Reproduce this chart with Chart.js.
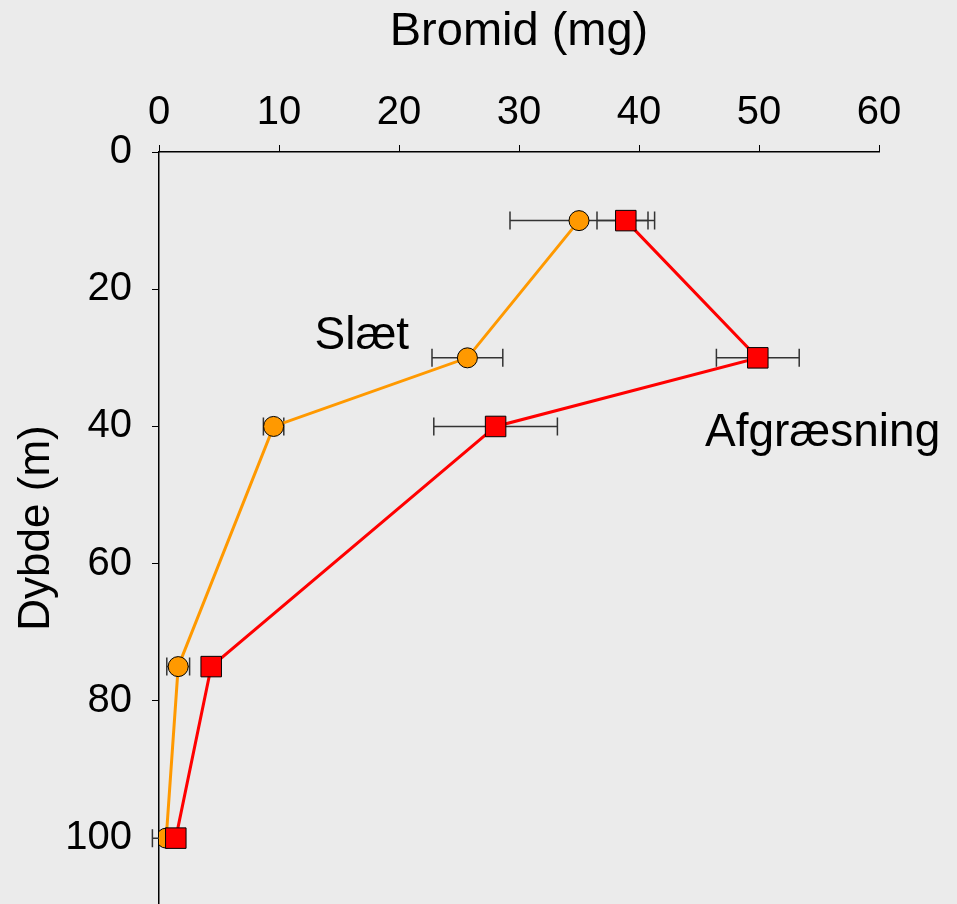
<!DOCTYPE html>
<html>
<head>
<meta charset="utf-8">
<script src="https://cdn.jsdelivr.net/npm/chart.js@4.4.0/dist/chart.umd.min.js"></script>
<style>
  html, body { margin: 0; padding: 0; background: #ebebeb; overflow: hidden; }
  canvas { display: block; }
</style>
</head>
<body>
<canvas id="grafico" width="957" height="904"></canvas>
<script>
// dybder (m) og bromid (mg)
const dybder = [10, 30, 40, 75, 100];
const slaet = [35, 25.7, 9.55, 1.6, 0.6];
const slaetFejl = [5.75, 2.95, 0.85, 0.95, 1.15];
const afgraesning = [38.9, 49.9, 28.05, 4.35, 1.4];
const afgraesningFejl = [2.4, 3.45, 5.15, 0, 0];
const xTicks = [0, 10, 20, 30, 40, 50, 60];
const yTicks = [0, 20, 40, 60, 80, 100];
const etiketter = [
  { tekst: 'Slæt', x: 16.9, y: 26.8 },
  { tekst: 'Afgræsning', x: 55.3, y: 41 }
];

const punkter = (xs) => xs.map((v, i) => ({ x: v, y: dybder[i] }));

const baggrund = {
  id: 'baggrund',
  beforeDraw(chart) {
    const ctx = chart.ctx;
    ctx.save();
    ctx.fillStyle = '#ebebeb';
    ctx.fillRect(0, 0, chart.width, chart.height);
    ctx.restore();
  }
};

const fejlstreger = {
  id: 'fejlstreger',
  beforeDatasetsDraw(chart) {
    const ctx = chart.ctx;
    const xs = chart.scales.x, ys = chart.scales.y;
    ctx.save();
    ctx.strokeStyle = '#333';
    ctx.lineWidth = 1.5;
    [[slaet, slaetFejl], [afgraesning, afgraesningFejl]].forEach(([vals, errs]) => {
      vals.forEach((v, i) => {
        if (!errs[i]) return;
        const y = ys.getPixelForValue(dybder[i]);
        const x1 = xs.getPixelForValue(v - errs[i]);
        const x2 = xs.getPixelForValue(v + errs[i]);
        ctx.beginPath();
        ctx.moveTo(x1, y); ctx.lineTo(x2, y);
        ctx.moveTo(x1, y - 9); ctx.lineTo(x1, y + 9);
        ctx.moveTo(x2, y - 9); ctx.lineTo(x2, y + 9);
        ctx.stroke();
      });
    });
    ctx.restore();
  },
  afterDatasetsDraw(chart) {
    const ctx = chart.ctx;
    const xs = chart.scales.x, ys = chart.scales.y;
    ctx.save();
    ctx.fillStyle = '#000';
    ctx.font = '46px "Liberation Sans", Arial, sans-serif';
    ctx.textAlign = 'center';
    ctx.textBaseline = 'middle';
    etiketter.forEach(e => {
      ctx.fillText(e.tekst, xs.getPixelForValue(e.x), ys.getPixelForValue(e.y));
    });
    ctx.restore();
  }
};

new Chart(document.getElementById('grafico'), {
  type: 'scatter',
  data: {
    datasets: [
      {
        label: 'Afgræsning',
        data: punkter(afgraesning),
        showLine: true,
        borderColor: '#ff0000',
        borderWidth: 3,
        pointStyle: 'rect',
        pointRadius: 14.5,
        pointBackgroundColor: '#ff0000',
        pointBorderColor: '#000',
        pointBorderWidth: 1,
        order: 0
      },
      {
        label: 'Slæt',
        data: punkter(slaet),
        showLine: true,
        borderColor: '#ff9900',
        borderWidth: 3,
        pointStyle: 'circle',
        pointRadius: 10,
        pointBackgroundColor: '#ff9900',
        pointBorderColor: '#000',
        pointBorderWidth: 1,
        order: 1
      }
    ]
  },
  options: {
    responsive: false,
    animation: false,
    layout: { autoPadding: false, padding: { top: 0, left: 0, right: 78, bottom: 0 } },
    plugins: { legend: { display: false }, tooltip: { enabled: false } },
    scales: {
      x: {
        type: 'linear',
        position: 'top',
        min: 0,
        max: 60,
        afterBuildTicks: s => { s.ticks = xTicks.map(v => ({ value: v })); },
        afterFit: s => { s.height = 152; s.paddingLeft = 0; s.paddingRight = 0; },
        ticks: {
          color: '#000',
          padding: 8,
          maxRotation: 0,
          font: { family: '"Liberation Sans", Arial, sans-serif', size: 40 }
        },
        grid: { drawOnChartArea: false, drawTicks: true, tickLength: 7, color: '#000', lineWidth: 1 },
        border: { display: true, color: '#000', width: 1.5 },
        title: {
          display: true,
          text: 'Bromid (mg)',
          color: '#000',
          padding: { top: 4, bottom: 0 },
          font: { family: '"Liberation Sans", Arial, sans-serif', size: 47 }
        }
      },
      y: {
        type: 'linear',
        reverse: true,
        min: 0,
        max: 109.6,
        afterBuildTicks: s => { s.ticks = yTicks.map(v => ({ value: v })); },
        afterFit: s => { s.width = 159; s.paddingTop = 0; s.paddingBottom = 0; },
        ticks: {
          color: '#000',
          padding: 20,
          font: { family: '"Liberation Sans", Arial, sans-serif', size: 40 }
        },
        grid: { drawOnChartArea: false, drawTicks: true, tickLength: 7, color: '#000', lineWidth: 1 },
        border: { display: true, color: '#000', width: 1.5 },
        title: {
          display: true,
          text: 'Dybde (m)',
          color: '#000',
          padding: { top: 10, bottom: 0 },
          font: { family: '"Liberation Sans", Arial, sans-serif', size: 44 }
        }
      }
    }
  },
  plugins: [baggrund, fejlstreger]
});
</script>
</body>
</html>
